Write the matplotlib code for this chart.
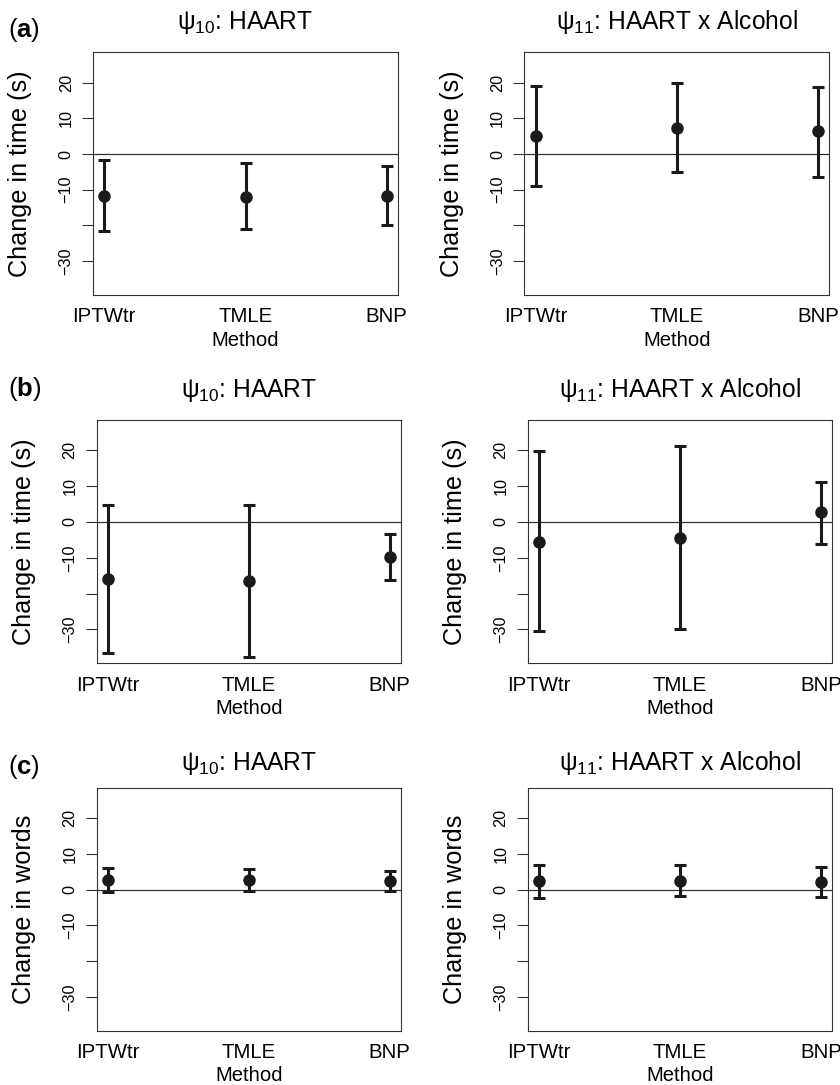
import numpy as np
import matplotlib
matplotlib.use("Agg")
import matplotlib.pyplot as plt

plt.rcParams["font.family"] = ["Liberation Sans", "DejaVu Sans"]
plt.rcParams["mathtext.fontset"] = "custom"
plt.rcParams["mathtext.rm"] = "Liberation Sans"
plt.rcParams["mathtext.bf"] = "Liberation Sans:bold"
plt.rcParams["mathtext.default"] = "regular"

# Methods on the x axis
methods = ["IPTWtr", "TMLE", "BNP"]

# (a) change in time, HAART / HAART x Alcohol: estimate, lower, upper
a10_est = [-11.7, -12.0, -11.7]
a10_lo = [-21.5, -21.1, -19.9]
a10_hi = [-1.8, -2.6, -3.3]
a11_est = [5.0, 7.4, 6.4]
a11_lo = [-9.0, -5.1, -6.3]
a11_hi = [19.1, 19.8, 18.8]

# (b) change in time
b10_est = [-15.9, -16.5, -9.9]
b10_lo = [-36.5, -37.6, -16.3]
b10_hi = [4.7, 4.7, -3.4]
b11_est = [-5.5, -4.5, 2.8]
b11_lo = [-30.6, -30.0, -6.1]
b11_hi = [19.8, 21.2, 11.3]

# (c) change in words
c10_est = [2.6, 2.6, 2.4]
c10_lo = [-0.8, -0.5, -0.4]
c10_hi = [6.1, 5.7, 5.3]
c11_est = [2.3, 2.4, 2.1]
c11_lo = [-2.3, -1.8, -2.0]
c11_hi = [7.0, 6.8, 6.4]

titles = ["ψ$_{10}$: HAART", "ψ$_{11}$: HAART x Alcohol"]
ylabels = ["Change in time (s)", "Change in time (s)", "Change in words"]
panel_tags = ["a", "b", "c"]
yticks = [-30, -20, -10, 0, 10, 20]
ytick_labels = ["\u221230", "", "\u221210", "0", "10", "20"]

rows = [
    [(a10_est, a10_lo, a10_hi), (a11_est, a11_lo, a11_hi)],
    [(b10_est, b10_lo, b10_hi), (b11_est, b11_lo, b11_hi)],
    [(c10_est, c10_lo, c10_hi), (c11_est, c11_lo, c11_hi)],
]

W, H = 840, 1085
# axes boxes in pixels: left, top, right, bottom
boxes = [
    [(93, 52.3, 398, 295), (524.3, 52.3, 829.3, 295)],
    [(96.7, 420, 401, 663.3), (527.7, 420, 832.3, 663.3)],
    [(96.7, 787.7, 401, 1030.7), (527.7, 787.7, 832.3, 1030.7)],
]
title_pads = [16.6, 16.8, 12.7]
tag_baselines = [37.4, 396, 773.7]

ink = "#1a1a1a"
fig = plt.figure(figsize=(W / 100, H / 100), dpi=100)

for r in range(3):
    for c in range(2):
        l, t, rr, b = boxes[r][c]
        ax = fig.add_axes([l / W, 1 - b / H, (rr - l) / W, (b - t) / H])
        est, lo, hi = [np.array(v) for v in rows[r][c]]
        x = np.arange(1, len(methods) + 1)
        ax.axhline(0, color="#333333", lw=0.9, zorder=1)
        ax.errorbar(x, est, yerr=[est - lo, hi - est], fmt="o", color=ink,
                    ms=8, lw=2.2, capsize=4, capthick=2.2, zorder=3)
        ax.set_xlim(0.92, 3.08)
        ax.set_ylim(-39.5, 28.5)
        ax.set_xticks(x, methods)
        ax.set_yticks(yticks, ytick_labels, rotation=90, va="center")
        ax.tick_params(axis="x", length=0, pad=9, labelsize=14.7)
        ax.tick_params(axis="y", length=7.9, width=0.8, pad=6,
                       labelsize=11.7, color="#333333")
        for s in ax.spines.values():
            s.set_linewidth(0.8)
            s.set_color("#333333")
        ax.set_xlabel("Method", fontsize=14.6, labelpad=3)
        ax.set_ylabel(ylabels[r], fontsize=18.2)
        ax.yaxis.set_label_coords(-60.5 / (rr - l), 0.5)
        ax.set_title(titles[c], fontsize=17.7, pad=title_pads[r])
    fig.text(8 / W, 1 - tag_baselines[r] / H,
             "($\\mathbf{" + panel_tags[r] + "}$)",
             fontsize=18.5, ha="left", va="baseline")

fig.savefig("out.png", dpi=100)
